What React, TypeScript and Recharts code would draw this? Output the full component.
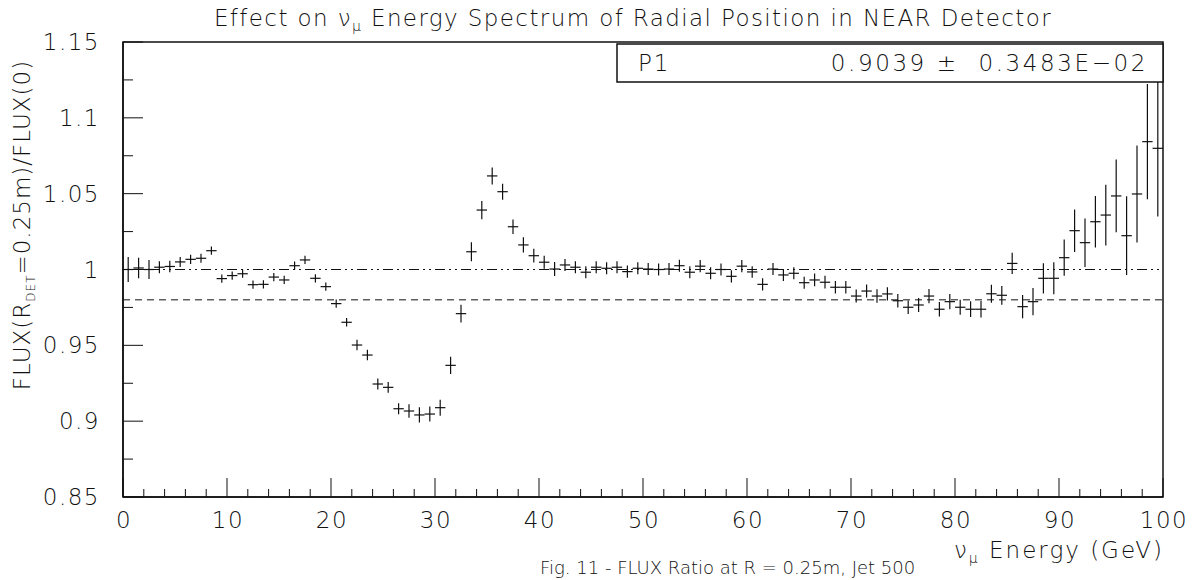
import {
  ErrorBar,
  ReferenceArea,
  ReferenceLine,
  Scatter,
  ScatterChart,
  XAxis,
  YAxis,
} from "recharts";

// bin centres (GeV), 1 GeV bins
const energies = [
  0.5, 1.5, 2.5, 3.5, 4.5, 5.5, 6.5, 7.5, 8.5, 9.5,
  10.5, 11.5, 12.5, 13.5, 14.5, 15.5, 16.5, 17.5, 18.5, 19.5,
  20.5, 21.5, 22.5, 23.5, 24.5, 25.5, 26.5, 27.5, 28.5, 29.5,
  30.5, 31.5, 32.5, 33.5, 34.5, 35.5, 36.5, 37.5, 38.5, 39.5,
  40.5, 41.5, 42.5, 43.5, 44.5, 45.5, 46.5, 47.5, 48.5, 49.5,
  50.5, 51.5, 52.5, 53.5, 54.5, 55.5, 56.5, 57.5, 58.5, 59.5,
  60.5, 61.5, 62.5, 63.5, 64.5, 65.5, 66.5, 67.5, 68.5, 69.5,
  70.5, 71.5, 72.5, 73.5, 74.5, 75.5, 76.5, 77.5, 78.5, 79.5,
  80.5, 81.5, 82.5, 83.5, 84.5, 85.5, 86.5, 87.5, 88.5, 89.5,
  90.5, 91.5, 92.5, 93.5, 94.5, 95.5, 96.5, 97.5, 98.5, 99.5,
];

const ratios = [
  1.0, 1.001, 1.0, 1.0015, 1.002, 1.005, 1.0067, 1.0074, 1.0124, 0.994,
  0.996, 0.9972, 0.99, 0.9902, 0.995, 0.9931, 1.0025, 1.0063, 0.9942, 0.9887,
  0.9775, 0.9652, 0.9502, 0.9436, 0.9245, 0.9223, 0.9082, 0.9067, 0.9041, 0.9047,
  0.9089, 0.9368, 0.9709, 1.0117, 1.0392, 1.0617, 1.0513, 1.0282, 1.0162, 1.0091,
  1.0048, 1.0003, 1.003, 1.0015, 0.9982, 1.0015, 1.0008, 1.0015, 0.9986, 1.0008,
  1.0003, 1.0, 1.0003, 1.0025, 0.9982, 1.0022, 0.9975, 1.0, 0.9955, 1.0022,
  0.9984, 0.9902, 1.0003, 0.9964, 0.9975, 0.9913, 0.9931, 0.9916, 0.9883, 0.9883,
  0.9825, 0.9858, 0.9825, 0.9839, 0.9794, 0.9751, 0.9766, 0.9825, 0.9738, 0.9788,
  0.9751, 0.9738, 0.9738, 0.984, 0.983, 1.004, 0.9755, 0.9788, 0.9942, 0.9942,
  1.0078, 1.0256, 1.0177, 1.0315, 1.0359, 1.0485, 1.0223, 1.0498, 1.0843, 1.0799,
];

const errors = [
  0.0082, 0.0068, 0.0063, 0.004, 0.0038, 0.0033, 0.003, 0.003, 0.0027, 0.0027,
  0.0027, 0.0027, 0.0027, 0.0027, 0.0027, 0.0027, 0.0027, 0.0027, 0.0027, 0.0027,
  0.0027, 0.0028, 0.0035, 0.0035, 0.0036, 0.0036, 0.0036, 0.0045, 0.005, 0.005,
  0.0053, 0.0057, 0.0058, 0.0063, 0.006, 0.0056, 0.0053, 0.0048, 0.005, 0.0045,
  0.0043, 0.0046, 0.004, 0.004, 0.004, 0.004, 0.004, 0.004, 0.004, 0.004,
  0.004, 0.004, 0.004, 0.004, 0.004, 0.004, 0.004, 0.004, 0.004, 0.004,
  0.0038, 0.004, 0.004, 0.004, 0.004, 0.004, 0.0042, 0.0042, 0.0042, 0.0042,
  0.0043, 0.0043, 0.0044, 0.0044, 0.0045, 0.0045, 0.0046, 0.0047, 0.0048, 0.005,
  0.005, 0.0052, 0.0054, 0.006, 0.0062, 0.007, 0.0077, 0.009, 0.01, 0.0105,
  0.012, 0.014, 0.016, 0.017, 0.02, 0.024, 0.026, 0.032, 0.038, 0.045,
];

const binHalfWidth = 0.5;
const fitLevel = 0.98;

const xTicks = [
  0, 2, 4, 6, 8, 10, 12, 14, 16, 18, 20, 22, 24, 26, 28, 30, 32, 34, 36, 38, 40,
  42, 44, 46, 48, 50, 52, 54, 56, 58, 60, 62, 64, 66, 68, 70, 72, 74, 76, 78, 80,
  82, 84, 86, 88, 90, 92, 94, 96, 98, 100,
];
const xLabels = [0, 10, 20, 30, 40, 50, 60, 70, 80, 90, 100];
const yTicks = [
  0.85, 0.875, 0.9, 0.925, 0.95, 0.975, 1.0, 1.025, 1.05, 1.075, 1.1, 1.125, 1.15,
];
const yLabels: Record<string, string> = {
  "0.85": "0.85",
  "0.9": "0.9",
  "0.95": "0.95",
  "1": "1",
  "1.05": "1.05",
  "1.1": "1.1",
  "1.15": "1.15",
};

const data = energies.map((e, i) => ({
  e,
  r: ratios[i],
  err: errors[i],
  ex: binHalfWidth,
}));

const FONT = "'DejaVu Sans', sans-serif";
const INK = "#111";

function XTick(props: any) {
  const { x, y, payload } = props;
  const major = xLabels.includes(payload.value);
  return (
    <g>
      <line x1={x} x2={x} y1={y} y2={y - (major ? 19 : 8)} stroke={INK} strokeWidth={1} />
      {major && (
        <text
          x={x + 1}
          y={y + 31}
          textAnchor="middle"
          fontFamily={FONT}
          fontWeight={200}
          fontSize={23}
          letterSpacing={1.5}
          fill={INK}
        >
          {payload.value}
        </text>
      )}
    </g>
  );
}

function YTick(props: any) {
  const { x, y, payload } = props;
  const label = yLabels[String(payload.value)];
  return (
    <g>
      <line x1={x} x2={x + (label ? 20 : 10)} y1={y} y2={y} stroke={INK} strokeWidth={1} />
      {label && (
        <text
          x={x - 23}
          y={y + 8}
          textAnchor="end"
          fontFamily={FONT}
          fontWeight={200}
          fontSize={23}
          letterSpacing={1.5}
          fill={INK}
        >
          {label}
        </text>
      )}
    </g>
  );
}

const txt = { fontFamily: FONT, fontWeight: 200, fontSize: 23, fill: INK };

export default function App() {
  return (
    <div style={{ position: "absolute", left: 0, top: 0, width: 1195, height: 580, background: "#fff", overflow: "hidden" }}>
      <ScatterChart width={1195} height={580} margin={{ top: 42, right: 32, bottom: 23, left: 13 }}>
        <XAxis
          type="number"
          dataKey="e"
          domain={[0, 100]}
          ticks={xTicks}
          interval={0}
          height={60}
          tickSize={0}
          tickMargin={0}
          tickLine={false}
          axisLine={{ stroke: INK, strokeWidth: 1.5 }}
          tick={<XTick />}
        />
        <YAxis
          type="number"
          dataKey="r"
          domain={[0.85, 1.15]}
          ticks={yTicks}
          interval={0}
          width={110}
          tickSize={0}
          tickMargin={0}
          tickLine={false}
          allowDataOverflow
          axisLine={{ stroke: INK, strokeWidth: 1.5 }}
          tick={<YTick />}
        />
        <ReferenceArea x1={0} x2={100} y1={0.85} y2={1.15} fill="none" stroke={INK} strokeWidth={1.5} ifOverflow="visible" />
        <ReferenceLine y={1} stroke={INK} strokeWidth={1} strokeDasharray="10 4 2 4 2 4" />
        <ReferenceLine y={fitLevel} stroke={INK} strokeWidth={1} strokeDasharray="7 5" />
        <Scatter data={data} isAnimationActive={false} shape={() => <g />}>
          <ErrorBar dataKey="err" direction="y" width={0} stroke={INK} strokeWidth={1.2} isAnimationActive={false} />
          <ErrorBar dataKey="ex" direction="x" width={0} stroke={INK} strokeWidth={1.2} isAnimationActive={false} />
        </Scatter>
      </ScatterChart>
      <svg width={1195} height={580} style={{ position: "absolute", left: 0, top: 0, pointerEvents: "none" }}>
        <text x={633} y={26} textAnchor="middle" {...txt} letterSpacing={1.4}>
          Effect on ν<tspan fontSize={14} dy={5}>μ</tspan>
          <tspan dy={-5}> Energy Spectrum of Radial Position in NEAR Detector</tspan>
        </text>
        <rect x={617} y={44} width={546} height={38} fill="#fff" stroke={INK} strokeWidth={1.5} />
        <text x={638} y={71} {...txt} letterSpacing={2}>P1</text>
        <text x={1148} y={71} textAnchor="end" {...txt} letterSpacing={2.6} style={{ whiteSpace: "pre" }}>
          {"0.9039 ±  0.3483E−02"}
        </text>
        <text transform="translate(30,225) rotate(-90)" textAnchor="middle" {...txt} letterSpacing={1}>
          FLUX(R<tspan fontSize={12} dy={5}>DET</tspan>
          <tspan dy={-5}>=0.25m)/FLUX(0)</tspan>
        </text>
        <text x={1164} y={558} textAnchor="end" {...txt} letterSpacing={2}>
          ν<tspan fontSize={14} dy={5}>μ</tspan>
          <tspan dy={-5}> Energy (GeV)</tspan>
        </text>
        <text x={540} y={574} {...txt} fontSize={18}>Fig. 11 -  FLUX Ratio at R = 0.25m, Jet 500</text>
      </svg>
    </div>
  );
}
